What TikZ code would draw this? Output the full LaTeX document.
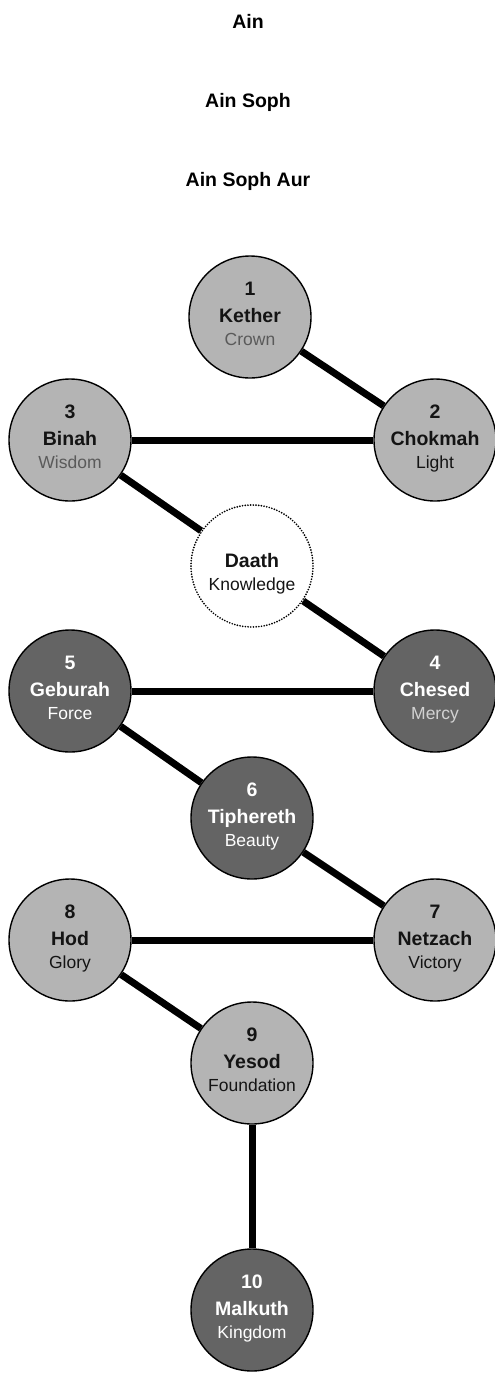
\documentclass[tikz,border=0pt]{standalone}
\usepackage{fontspec}
\setmainfont{Liberation Sans}
\usetikzlibrary{backgrounds}

\definecolor{sephlight}{HTML}{B4B4B4}
\definecolor{sephdark}{HTML}{646464}
\definecolor{subgrey}{HTML}{5A5A5A}
\definecolor{subpale}{HTML}{D2D2D2}
\definecolor{inkdark}{HTML}{141414}

\tikzset{
    sephira/.style={circle, draw=black, line width=1.4pt, minimum size=122pt, inner sep=0pt},
    branch/.style={line width=7pt},
    titletxt/.style={anchor=base, inner sep=0pt, font=\fontsize{19.5}{23}\selectfont\bfseries},
    nametxt/.style={anchor=base, inner sep=0pt, font=\fontsize{19.5}{23}\selectfont\bfseries},
    subtxt/.style={anchor=base, inner sep=0pt, font=\fontsize{17.5}{21}\selectfont}
}

\begin{document}
\begin{tikzpicture}[x=1pt, y=-1pt] % one unit is one pixel of the drawing
        \useasboundingbox (0,0) rectangle (495,1374);

        \node[titletxt] (ain) at (248,28) {Ain};
        \node[titletxt] (ainsoph) at (248,107) {Ain Soph};
        \node[titletxt] (ainsophaur) at (248,186) {Ain Soph Aur};

        \foreach \nm/\x/\y/\num/\title/\sub/\fillc/\ink/\subink in {
            kether/250/317/1/Kether/Crown/sephlight/inkdark/subgrey,
            chokmah/435/440/2/Chokmah/Light/sephlight/inkdark/inkdark,
            binah/70/440/3/Binah/Wisdom/sephlight/inkdark/subgrey,
            chesed/435/691/4/Chesed/Mercy/sephdark/white/subpale,
            geburah/70/691/5/Geburah/Force/sephdark/white/white,
            tiphereth/252/818/6/Tiphereth/Beauty/sephdark/white/white,
            netzach/435/940/7/Netzach/Victory/sephlight/inkdark/inkdark,
            hod/70/940/8/Hod/Glory/sephlight/inkdark/inkdark,
            yesod/252/1063/9/Yesod/Foundation/sephlight/inkdark/inkdark,
            malkuth/252/1310/10/Malkuth/Kingdom/sephdark/white/white}
        {
            \node[sephira, fill=\fillc] (\nm) at (\x,\y) {};
            \node[nametxt, text=\ink] (\nm-num) at (\x,\y-22) {\num};
            \node[nametxt, text=\ink] (\nm-name) at (\x,\y+5) {\title};
            \node[subtxt, text=\subink] (\nm-sub) at (\x,\y+28) {\sub};
        }

        \node[sephira, fill=white, line width=1.9pt, line cap=round, dash pattern=on 0pt off 2.7pt] (daath) at (252,566) {};
        \node[nametxt, text=inkdark] (daath-name) at (252,567) {Daath};
        \node[subtxt, text=inkdark] (daath-sub) at (252,590) {Knowledge};

        \begin{scope}[on background layer]
            \draw[branch] (kether) -- (chokmah);
            \draw[branch] (binah) -- (chokmah);
            \draw[branch] (binah) -- (daath);
            \draw[branch] (daath) -- (chesed);
            \draw[branch] (geburah) -- (chesed);
            \draw[branch] (geburah) -- (tiphereth);
            \draw[branch] (tiphereth) -- (netzach);
            \draw[branch] (hod) -- (netzach);
            \draw[branch] (hod) -- (yesod);
            \draw[branch] (yesod) -- (malkuth);
        \end{scope}
\end{tikzpicture}
\end{document}
